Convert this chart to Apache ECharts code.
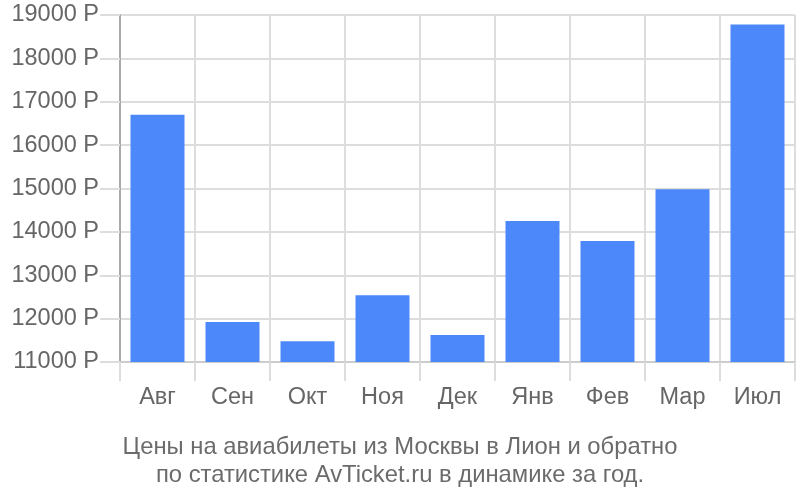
<!DOCTYPE html>
<html><head><meta charset="utf-8">
<script src="https://cdn.jsdelivr.net/npm/echarts@6/dist/echarts.min.js"></script>
<style>html,body{margin:0;padding:0;background:#fff}#c{width:800px;height:500px}</style>
</head><body><div id="c"></div>
<script>
const categories = ["Авг","Сен","Окт","Ноя","Дек","Янв","Фев","Мар","Июл"];
const prices = [16700, 11920, 11480, 12540, 11620, 14250, 13790, 14980, 18780];
const yMin = 11000, yMax = 19000, yStep = 1000;
const titleLines = ["Цены на авиабилеты из Москвы в Лион и обратно","по статистике AvTicket.ru в динамике за год."];

const chart = echarts.init(document.getElementById('c'), null, {renderer:'canvas'});
const font = 'Liberation Sans, Arial, sans-serif';
chart.setOption({
  animation:false,
  title:{text:titleLines.join('\n'), left:'center', top:428,
    textStyle:{fontFamily:font,fontSize:23.8,fontWeight:'normal',color:'#6b6b6b',lineHeight:28}},
  grid:{left:120,right:5,top:15,bottom:138},
  xAxis:{type:'category',data:categories,boundaryGap:true,
    axisLine:{show:true,lineStyle:{color:'#cccccc',width:2}},
    axisTick:{show:true,alignWithLabel:false,length:19,lineStyle:{color:'#dddddd',width:2}},
    axisLabel:{fontFamily:font,fontSize:23.5,color:'#666',margin:24},
    splitLine:{show:true,lineStyle:{color:'#dddddd',width:2}}},
  yAxis:{type:'value',min:yMin,max:yMax,interval:yStep,
    axisLine:{show:true,lineStyle:{color:'#aaaaaa',width:2}},
    axisTick:{show:true,length:20,lineStyle:{color:'#dddddd',width:2}},
    axisLabel:{fontFamily:font,fontSize:23.5,color:'#666',margin:21,formatter:v=>v+' Р'},
    splitLine:{show:true,lineStyle:{color:'#dddddd',width:2}}},
  series:[{type:'bar',data:prices,barWidth:'72%',
    itemStyle:{color:'#4d88fb'}}]
});
</script></body></html>
